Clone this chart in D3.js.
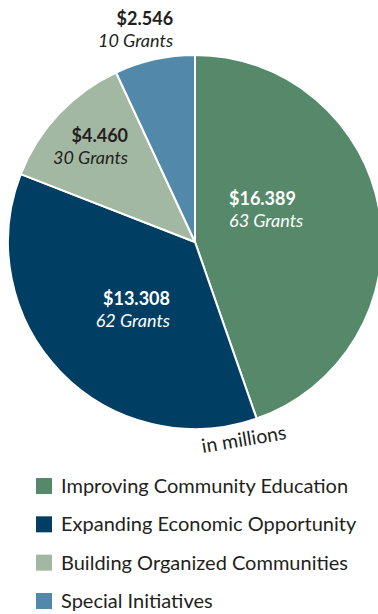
<!DOCTYPE html>
<html>
<head>
<meta charset="utf-8">
<script src="https://cdn.jsdelivr.net/npm/d3@7"></script>
<style>
  html, body { margin: 0; padding: 0; background: #fff; }
  svg { display: block; }
</style>
</head>
<body>
<svg id="chart" width="378" height="614"></svg>
<script>
// Grant funding by program area (in millions)
const categories = [
  "Improving Community Education",
  "Expanding Economic Opportunity",
  "Building Organized Communities",
  "Special Initiatives"
];
const amounts = [16.389, 13.308, 4.460, 2.546];
const valueLabels = ["$16.389", "$13.308", "$4.460", "$2.546"];
const grantLabels = ["63 Grants", "62 Grants", "30 Grants", "10 Grants"];
const colors = ["#55896a", "#003f63", "#a3b8a2", "#5289ab"];

const svg = d3.select("#chart");
const cx = 195, cy = 242, radius = 187;

const pie = d3.pie().sort(null).value(d => d.value);
const arcs = pie(categories.map((c, i) => ({ name: c, value: amounts[i], i })));

const arc = d3.arc().innerRadius(0).outerRadius(radius);

const g = svg.append("g").attr("transform", `translate(${cx},${cy})`);

g.selectAll("path.slice")
  .data(arcs)
  .join("path")
  .attr("class", "slice")
  .attr("d", arc)
  .attr("fill", d => colors[d.data.i])
  .attr("stroke", "#fff")
  .attr("stroke-width", 2)
  .attr("stroke-linejoin", "round");

// label anchor: distance from centre, angular nudge from slice middle (degrees), alignment
const labelPlace = [
  { r: 44.7, da: -30.8, anchor: "start", fill: "#fff" },
  { r: 75.3, da: -26.6, anchor: "end", fill: "#fff" },
  { r: 113.8, da: 10.8, anchor: "end", fill: "#231f20" },
  { r: 210.2, da: 6.5, anchor: "end", fill: "#231f20" }
];

const labels = g.selectAll("g.lbl")
  .data(arcs)
  .join("g")
  .attr("class", "lbl")
  .attr("transform", d => {
    const p = labelPlace[d.data.i];
    const a = (d.startAngle + d.endAngle) / 2 + p.da * Math.PI / 180;
    return `translate(${p.r * Math.sin(a)},${-p.r * Math.cos(a)})`;
  });

labels.append("text")
  .attr("text-anchor", d => labelPlace[d.data.i].anchor)
  .attr("y", -8)
  .attr("font-family", "Lato, 'Open Sans', sans-serif")
  .attr("font-weight", "bold")
  .attr("font-size", 18)
  .attr("fill", d => labelPlace[d.data.i].fill)
  .text(d => valueLabels[d.data.i]);

labels.append("text")
  .attr("text-anchor", d => labelPlace[d.data.i].anchor)
  .attr("y", 14)
  .attr("font-family", "Lato, 'Open Sans', sans-serif")
  .attr("font-style", "italic")
  .attr("font-size", 18)
  .attr("fill", d => labelPlace[d.data.i].fill)
  .text(d => grantLabels[d.data.i]);

// unit note along the lower edge
svg.append("text")
  .attr("transform", "translate(245,446) rotate(-9.5)")
  .attr("text-anchor", "middle")
  .attr("font-family", "Lato, 'Open Sans', sans-serif")
  .attr("font-size", 19.5)
  .attr("fill", "#231f20")
  .text("in millions");

// legend
const legend = svg.append("g").attr("transform", "translate(36,478)");
const rowY = d3.scalePoint().domain(categories).range([0, 115]);

const rows = legend.selectAll("g.row")
  .data(categories)
  .join("g")
  .attr("class", "row")
  .attr("transform", d => `translate(0,${rowY(d)})`);

rows.append("rect")
  .attr("width", 16)
  .attr("height", 16)
  .attr("fill", (d, i) => colors[i]);

rows.append("text")
  .attr("x", 25)
  .attr("y", 15)
  .attr("font-family", "Lato, 'Open Sans', sans-serif")
  .attr("font-size", 20)
  .attr("fill", "#231f20")
  .text(d => d);
</script>
</body>
</html>
